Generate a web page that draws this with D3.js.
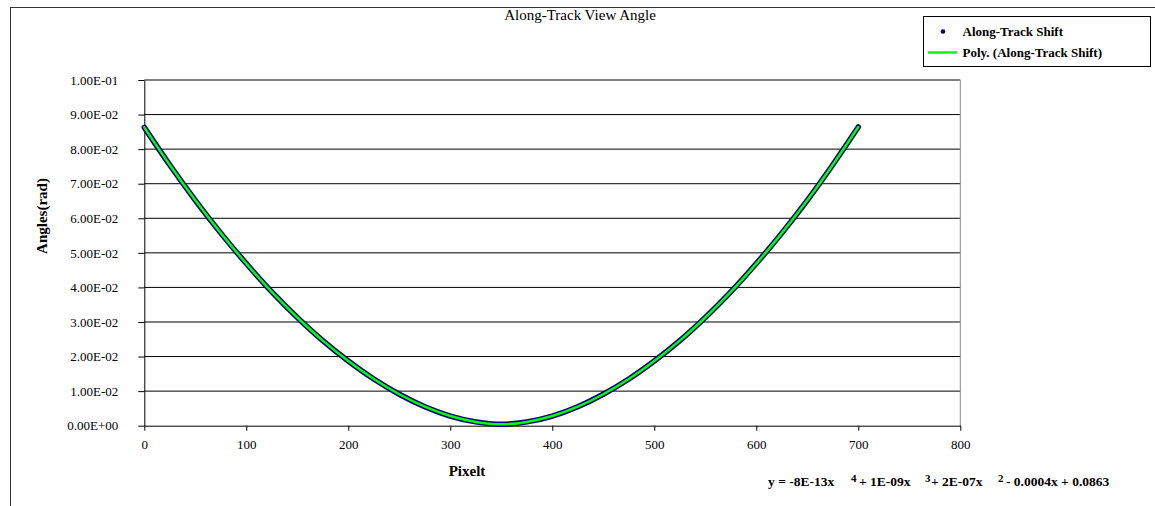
<!DOCTYPE html>
<html><head><meta charset="utf-8">
<script src="https://cdn.jsdelivr.net/npm/d3@7"></script>
<style>
body{margin:0;background:#fff}
svg{display:block}
text{font-family:"Liberation Serif","Times New Roman",serif;fill:#000}
</style>
</head><body>
<svg id="chart" width="1155" height="506"></svg>
<script>
// ---- data ----
const pixelX = [0,25,50,75,100,125,150,175,200,225,250,275,300,325,350,375,400,425,450,475,500,525,550,575,600,625,650,675,700];
const angleRad = [0.0863,0.0754,0.0652,0.0557,0.0469,0.0387,0.0313,0.0246,0.0187,0.0135,0.0091,0.0055,0.0028,0.0011,0.0004,0.0011,0.0028,0.0055,0.0091,0.0135,0.0187,0.0246,0.0313,0.0387,0.0469,0.0557,0.0652,0.0755,0.0864];
const xTicks = [0,100,200,300,400,500,600,700,800];
const yTicks = [0,0.01,0.02,0.03,0.04,0.05,0.06,0.07,0.08,0.09,0.1];
const yTickLabels = ["0.00E+00","1.00E-02","2.00E-02","3.00E-02","4.00E-02","5.00E-02","6.00E-02","7.00E-02","8.00E-02","9.00E-02","1.00E-01"];
const titleText = "Along-Track View Angle";
const xTitle = "Pixelt";
const yTitle = "Angles(rad)";
const seriesName = "Along-Track Shift";
const trendName = "Poly. (Along-Track Shift)";
const eqParts = ["y = -8E-13x","4","+ 1E-09x","3","+ 2E-07x","2","- 0.0004x + 0.0863"];

const svg = d3.select("#chart");
const L = 144.3, R = 960.3, T = 80, B = 425.7;
const x = d3.scaleLinear().domain([0,800]).range([L,R]);
const y = d3.scaleLinear().domain([0,0.1]).range([B,T]);

// outer chart border (left + top visible)
svg.append("rect").attr("x",10.5).attr("y",7.5).attr("width",1300).attr("height",700)
  .attr("fill","none").attr("stroke","#333").attr("stroke-width",1);

// gridlines
svg.append("g").selectAll("line").data(yTicks.filter(d=>d>0)).join("line")
  .attr("x1",L).attr("x2",R).attr("y1",d=>y(d)).attr("y2",d=>y(d))
  .attr("stroke","#000").attr("stroke-width",1);
// plot right border
svg.append("line").attr("x1",R).attr("x2",R).attr("y1",T).attr("y2",B)
  .attr("stroke","#888").attr("stroke-width",1);

// axes
const yAxis = svg.append("g").attr("transform",`translate(${L},0)`)
  .call(d3.axisLeft(y).tickValues(yTicks).tickFormat((d,i)=>yTickLabels[i]).tickSize(6).tickSizeOuter(0).tickPadding(20));
const xAxis = svg.append("g").attr("transform",`translate(0,${B})`)
  .call(d3.axisBottom(x).tickValues(xTicks).tickFormat(d3.format("d")).tickSize(5).tickSizeOuter(0).tickPadding(9));
[yAxis,xAxis].forEach(g=>{
  g.selectAll("text").style("font-size","13px").style("font-family",'"Liberation Serif","Times New Roman",serif').attr("fill","#000");
  g.selectAll("line,path").attr("stroke","#000");
});

// series
const pts = pixelX.map((px,i)=>({x:px,y:angleRad[i]}));
const line = d3.line().x(d=>x(d.x)).y(d=>y(d.y)).curve(d3.curveCatmullRom.alpha(0.5));
svg.append("path").attr("d",line(pts)).attr("fill","none").attr("stroke","#000080").attr("stroke-width",5.5).attr("stroke-linejoin","round").attr("stroke-linecap","round");
svg.append("path").attr("d",line(pts)).attr("fill","none").attr("stroke","#00ff00").attr("stroke-width",2.5).attr("stroke-linecap","round");

// titles
svg.append("text").attr("x",580).attr("y",20).attr("text-anchor","middle").style("font-size","15px").text(titleText);
svg.append("text").attr("x",467).attr("y",476).attr("text-anchor","middle").style("font-size","15px").style("font-weight","bold").text(xTitle);
svg.append("text").attr("transform","translate(47,216) rotate(-90)").attr("text-anchor","middle").style("font-size","15px").style("font-weight","bold").text(yTitle);

// legend
const lg = svg.append("g");
lg.append("rect").attr("x",923.5).attr("y",16.5).attr("width",227).attr("height",50).attr("fill","#fff").attr("stroke","#000");
lg.append("circle").attr("cx",943).attr("cy",31.5).attr("r",2.3).attr("fill","#000080");
lg.append("line").attr("x1",928).attr("x2",957).attr("y1",52.5).attr("y2",52.5).attr("stroke","#00ff00").attr("stroke-width",2.5);
lg.append("text").attr("x",962.5).attr("y",36).style("font-size","13px").style("font-weight","bold").text(seriesName);
lg.append("text").attr("x",962.5).attr("y",57).style("font-size","13px").style("font-weight","bold").text(trendName);

// equation
const eqX = [768,851,859,925,931,998,1006];
const eq = svg.append("g").style("font-weight","bold");
eqParts.forEach((s,i)=>{
  const sup = i%2===1;
  eq.append("text").attr("x",eqX[i]).attr("y",sup?482:486).style("font-size",sup?"11px":"13.5px").text(s);
});
</script>
</body></html>
